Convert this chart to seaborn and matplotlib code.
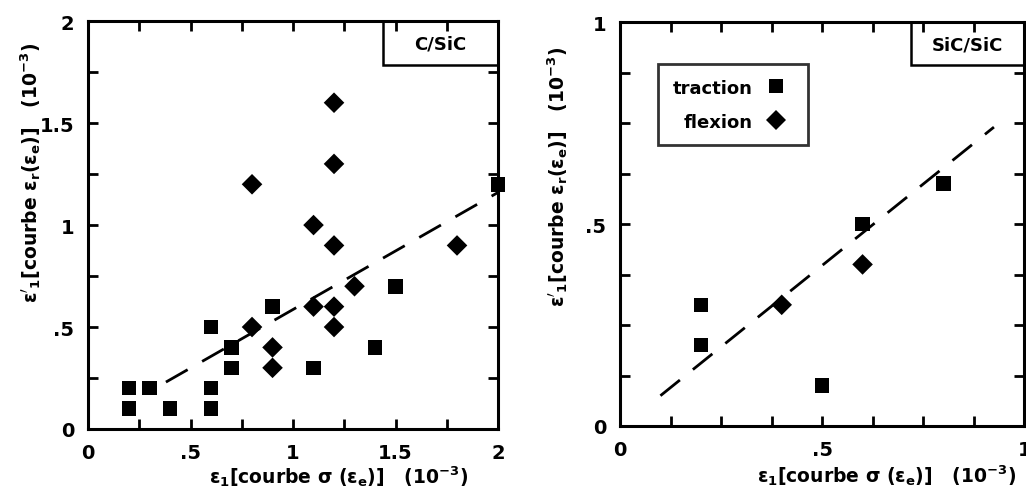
import matplotlib
matplotlib.use("Agg")
import matplotlib.pyplot as plt
import pandas as pd
import seaborn as sns
from matplotlib.ticker import MultipleLocator
from matplotlib.patches import Rectangle

# C/SiC (left panel)
csic_trac_x = [0.2, 0.2, 0.3, 0.4, 0.6, 0.6, 0.6, 0.7, 0.7, 0.9, 1.1, 1.4, 1.5, 2.0]
csic_trac_y = [0.1, 0.2, 0.2, 0.1, 0.1, 0.2, 0.5, 0.4, 0.3, 0.6, 0.3, 0.4, 0.7, 1.2]
csic_flex_x = [0.8, 0.8, 0.9, 0.9, 1.1, 1.1, 1.2, 1.2, 1.2, 1.2, 1.2, 1.3, 1.8]
csic_flex_y = [1.2, 0.5, 0.4, 0.3, 1.0, 0.6, 1.6, 1.3, 0.9, 0.6, 0.5, 0.7, 0.9]
csic_fit_x = [0.38, 2.0]
csic_fit_y = [0.23, 1.16]

# SiC/SiC (right panel)
sic_trac_x = [0.2, 0.2, 0.5, 0.6, 0.8]
sic_trac_y = [0.3, 0.2, 0.1, 0.5, 0.6]
sic_flex_x = [0.4, 0.6]
sic_flex_y = [0.3, 0.4]
sic_fit_x = [0.1, 0.925]
sic_fit_y = [0.075, 0.74]

xlabel = r"$\varepsilon_1$[courbe $\sigma$ ($\varepsilon_e$)]   (10$^{-3}$)"
ylabel = r"$\varepsilon'_1$[courbe $\varepsilon_r$($\varepsilon_e$)]   (10$^{-3}$)"

sns.set_style("ticks")
plt.rcParams["font.family"] = ["DejaVu Sans"]
plt.rcParams["font.weight"] = "bold"
plt.rcParams["mathtext.default"] = "bf"
plt.rcParams["mathtext.fontset"] = "dejavusans"
for key in ["text.color", "axes.edgecolor", "axes.labelcolor", "xtick.color", "ytick.color"]:
    plt.rcParams[key] = "black"


def make_df(tx, ty, fx, fy):
    return pd.DataFrame({
        "x": tx + fx,
        "y": ty + fy,
        "type": ["traction"] * len(tx) + ["flexion"] * len(fx),
    })


fig = plt.figure(figsize=(10.26, 4.89), dpi=100)
ax1 = fig.add_axes([0.0858, 0.1207, 0.3996, 0.834])
ax2 = fig.add_axes([0.6043, 0.1268, 0.394, 0.826])

panels = [
    (ax1, make_df(csic_trac_x, csic_trac_y, csic_flex_x, csic_flex_y),
     csic_fit_x, csic_fit_y, 2, "C/SiC", [0, 0.5, 1, 1.5, 2], ["0", ".5", "1", "1.5", "2"]),
    (ax2, make_df(sic_trac_x, sic_trac_y, sic_flex_x, sic_flex_y),
     sic_fit_x, sic_fit_y, 1, "SiC/SiC", [0, 0.5, 1], ["0", ".5", "1"]),
]

for ax, df, fx, fy, lim, title, ticks, tlabels in panels:
    sns.lineplot(x=fx, y=fy, ax=ax, color="black", lw=2, dashes=False,
                 linestyle=(0, (9, 6)))
    sns.scatterplot(data=df, x="x", y="y", style="type",
                    markers={"traction": "s", "flexion": "D"},
                    color="black", s=110, edgecolor="black", linewidth=0,
                    ax=ax, legend=(ax is ax2), clip_on=False, zorder=5)
    ax.set_xlim(0, lim)
    ax.set_ylim(0, lim)
    ax.set_xticks(ticks)
    ax.set_xticklabels(tlabels)
    ax.set_yticks(ticks)
    ax.set_yticklabels(tlabels)
    ax.xaxis.set_minor_locator(MultipleLocator(lim / 8))
    ax.yaxis.set_minor_locator(MultipleLocator(lim / 8))
    ax.tick_params(which="both", direction="in", top=True, right=True,
                   length=7, width=2, labelsize=14, pad=10, colors="black")
    for sp in ax.spines.values():
        sp.set_linewidth(2.2)
        sp.set_visible(True)
        sp.set_color("black")
    ax.set_xlabel(xlabel, fontsize=13.5, fontweight="bold")
    ax.set_ylabel(ylabel, fontsize=13.5, fontweight="bold")
    ax.add_patch(Rectangle((0.72, 0.893), 0.28, 0.107, transform=ax.transAxes,
                           fill=False, edgecolor="black", lw=1.8, clip_on=False))
    ax.text(0.86, 0.945, title, transform=ax.transAxes, ha="center", va="center",
            fontsize=13, fontweight="bold")

ax1.xaxis.set_label_coords(0.61, -0.085)
ax1.yaxis.set_label_coords(-0.11, 0.63)
ax2.xaxis.set_label_coords(0.66, -0.09)
ax2.yaxis.set_label_coords(-0.123, 0.62)

leg = ax2.legend(loc="upper left", bbox_to_anchor=(0.094, 0.896), markerfirst=False,
                 frameon=True, fancybox=False, edgecolor="black", fontsize=13,
                 handletextpad=0.3, borderpad=0.8, labelspacing=0.9,
                 borderaxespad=0, title=None)
leg.get_frame().set_linewidth(2)
for t in leg.get_texts():
    t.set_fontweight("bold")

fig.savefig("out.png", dpi=100)
